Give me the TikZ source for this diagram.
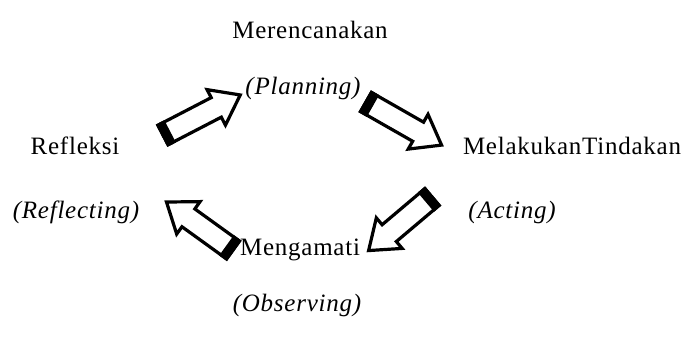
\documentclass[tikz,border=0pt]{standalone}
\usepackage{fontspec}
\setmainfont{Liberation Serif}[LetterSpace=3]
\usepackage{amsmath}

\tikzset{
  blockarrow/.pic={
    \filldraw[fill=white,line width=3.2pt,line join=miter]
      (0,-11) -- ({#1-29},-11) -- ({#1-29},-20) -- ({#1-2},0)
      -- ({#1-29},20) -- ({#1-29},11) -- (0,11) -- cycle;
    \fill (-1.6,-12.6) rectangle (8,12.6);
  }
}

\begin{document}
\begin{tikzpicture}[
   x=1pt,y=1pt,
   lbl/.style={inner sep=0pt,font=\fontsize{25}{29}\selectfont},
   ilbl/.style={lbl,font=\fontsize{25}{29}\selectfont\itshape},
   ]
   \useasboundingbox (0,0) rectangle (682,347);
   % stages of the cycle
   \node[lbl] (plan) at (310,317) {Merencanakan};
   \node[ilbl] (planEn) at (303,259) {(Planning)};
   \node[lbl] (act) at (572,201) {MelakukanTindakan};
   \node[ilbl] (actEn) at (512,135) {(Acting)};
   \node[lbl] (obs) at (300,97) {Mengamati};
   \node[ilbl] (obsEn) at (297,42) {(Observing)};
   \node[lbl] (refl) at (75,201) {Refleksi};
   \node[ilbl] (reflEn) at (76,135) {(Reflecting)};
   % arrows between stages
   \coordinate (t1) at (163,212);
   \coordinate (t2) at (366,245);
   \coordinate (t3) at (432,150);
   \coordinate (t4) at (233,97);
   \pic[rotate=27.4] at (t1) {blockarrow=89};
   \pic[rotate=-29.7] at (t2) {blockarrow=89};
   \pic[rotate=220.2] at (t3) {blockarrow=85};
   \pic[rotate=144.2] at (t4) {blockarrow=84};
\end{tikzpicture}
\end{document}
